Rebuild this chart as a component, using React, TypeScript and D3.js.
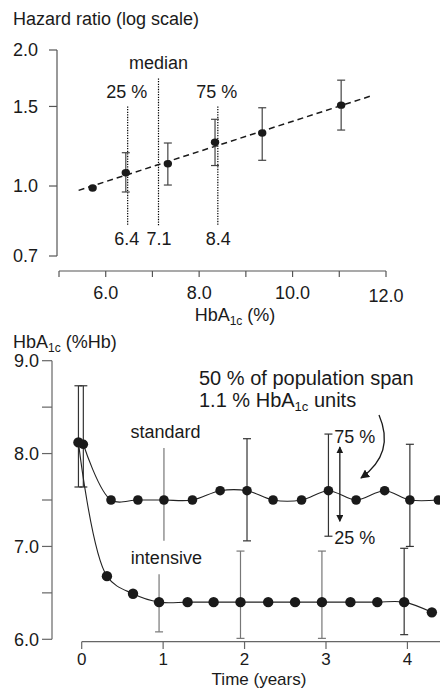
import React from 'react';
import * as d3 from 'd3';

// top panel: hazard ratio by HbA1c category
const hbCat = [5.72, 6.43, 7.33, 8.34, 9.35, 11.04];
const hrMean = [0.99, 1.07, 1.12, 1.25, 1.31, 1.51];
const hrLo = [null, 0.97, 1.005, 1.11, 1.14, 1.33];
const hrHi = [null, 1.185, 1.245, 1.405, 1.49, 1.715];
const trendX = [5.42, 11.7];
const trendY = [0.978, 1.585];
const quartX = [6.47, 7.13, 8.4];
const quartTop = [1.5, 1.73, 1.5];
const quartName = ['25 %', 'median', '75 %'];
const quartValue = ['6.4', '7.1', '8.4'];
const hrTicks = [0.7, 1.0, 1.5, 2.0];
const hbTicks = [5, 6, 7, 8, 9, 10, 11, 12];
const hbLabels = [6, 8, 10, 12];

// bottom panel: HbA1c over time
const stdYears = [0.02, 0.36, 0.69, 1.01, 1.36, 1.7, 2.03, 2.35, 2.7, 3.03, 3.37, 3.72, 4.03, 4.38];
const stdValues = [8.1, 7.5, 7.5, 7.5, 7.5, 7.6, 7.6, 7.5, 7.5, 7.6, 7.5, 7.6, 7.5, 7.5];
const intYears = [-0.04, 0.31, 0.63, 0.95, 1.3, 1.62, 1.95, 2.29, 2.62, 2.95, 3.3, 3.63, 3.96, 4.3];
const intValues = [8.12, 6.68, 6.49, 6.4, 6.4, 6.4, 6.4, 6.4, 6.4, 6.4, 6.4, 6.4, 6.4, 6.29];
const stdErrYears = [0.02, 1.01, 2.03, 3.03, 4.03];
const stdErrLo = [7.64, 7.06, 7.06, 7.11, 7.0];
const stdErrHi = [8.73, 8.06, 8.16, 8.21, 8.1];
const intErrYears = [-0.04, 0.95, 1.95, 2.95, 3.96];
const intErrLo = [7.64, 6.08, 6.01, 6.01, 6.05];
const intErrHi = [8.73, 6.7, 6.95, 6.95, 6.98];
const hbTimeTicks = [6, 6.5, 7, 7.5, 8, 8.5, 9];
const hbTimeLabels = [6, 7, 8, 9];
const yearTicks = [0, 1, 2, 3, 4];

const font = '"Liberation Sans", Arial, Helvetica, sans-serif';
const ink = '#1a1a1a';
const axisGray = '#555';

export default function App() {
  const hrX = d3.scaleLinear().domain([5, 12]).range([59, 386]);
  const hrY = d3.scaleLog().domain([0.7, 2]).range([256, 50]);
  const tX = d3.scaleLinear().domain([0, 4.4]).range([81.7, 440]);
  const tY = d3.scaleLinear().domain([6, 9]).range([639.3, 360.7]);

  const line = d3.line<number>().curve(d3.curveCatmullRom.alpha(0.5));
  const stdPath = line(stdYears.map((t, i) => [tX(t), tY(stdValues[i])]) as any);
  const intPath = line(intYears.map((t, i) => [tX(t), tY(intValues[i])]) as any);

  const errBar = (x: number, y1: number, y2: number, key: string, color: string,
    capTop = true, capBottom = true, cap = 4) => (
    <g key={key} stroke={color} strokeWidth={1.2}>
      <line x1={x} x2={x} y1={y1} y2={y2} />
      {capTop && <line x1={x - cap} x2={x + cap} y1={y1} y2={y1} />}
      {capBottom && <line x1={x - cap} x2={x + cap} y1={y2} y2={y2} />}
    </g>
  );

  return (
    <div style={{ position: 'absolute', left: 0, top: 0 }}>
      <svg width={440} height={690} style={{ display: 'block', fontFamily: font }}>
        <defs>
          <marker id="head" viewBox="0 0 10 10" refX="9" refY="5" markerWidth="7" markerHeight="7"
            markerUnits="userSpaceOnUse" orient="auto-start-reverse">
            <path d="M0,0 L10,5 L0,10 z" fill={ink} />
          </marker>
          <marker id="head2" viewBox="0 0 10 10" refX="9" refY="5" markerWidth="9" markerHeight="9"
            markerUnits="userSpaceOnUse" orient="auto">
            <path d="M0,0 L10,5 L0,10 z" fill={ink} />
          </marker>
        </defs>

        {/* ---------- top panel ---------- */}
        <text x={13} y={25} fontSize={18} fill={ink}>Hazard ratio (log scale)</text>

        <g stroke={axisGray} strokeWidth={1.2}>
          <line x1={57} x2={57} y1={hrY(2)} y2={hrY(0.7)} />
          {hrTicks.map(v => <line key={v} x1={49} x2={57} y1={hrY(v)} y2={hrY(v)} />)}
          <line x1={hrX(5)} x2={hrX(12)} y1={271} y2={271} />
          {hbTicks.map(v => <line key={v} x1={hrX(v)} x2={hrX(v)} y1={271} y2={277} />)}
        </g>
        {hrTicks.map(v => (
          <text key={v} x={38} y={hrY(v)} dy="0.35em" textAnchor="end" fontSize={18} fill={ink}>
            {v.toFixed(1)}
          </text>
        ))}
        {hbLabels.map(v => (
          <text key={v} x={hrX(v)} y={v === 12 ? 302 : 299} textAnchor="middle" fontSize={18} fill={ink}>
            {v.toFixed(1)}
          </text>
        ))}
        <text x={235} y={321} textAnchor="middle" fontSize={18} fill={ink}>
          HbA<tspan fontSize={12} dy={4}>1c</tspan><tspan dy={-4}> (%)</tspan>
        </text>

        {/* quartile markers */}
        {quartX.map((v, i) => (
          <g key={v}>
            <line x1={hrX(v)} x2={hrX(v)} y1={hrY(quartTop[i])} y2={226}
              stroke="#000" strokeWidth={1.2} strokeDasharray="1.3,1.3" />
            <text x={hrX(v) - (i === 1 ? 0 : 1)} y={i === 1 ? 69 : 98} textAnchor="middle" fontSize={18} fill={ink}>
              {quartName[i]}
            </text>
            <text x={hrX(v) + (i === 0 ? -1 : 0.5)} y={245} textAnchor="middle" fontSize={18} fill={ink}>
              {quartValue[i]}
            </text>
          </g>
        ))}

        <line x1={hrX(trendX[0])} y1={hrY(trendY[0])} x2={hrX(trendX[1])} y2={hrY(trendY[1])}
          stroke={ink} strokeWidth={1.5} strokeDasharray="6,4" />

        {hbCat.map((v, i) =>
          hrLo[i] != null ? errBar(hrX(v), hrY(hrHi[i] as number), hrY(hrLo[i] as number), 'e' + i, '#444') : null
        )}
        {hbCat.map((v, i) => (
          <ellipse key={v} cx={hrX(v)} cy={hrY(hrMean[i])} rx={4.2} ry={3.7} fill={ink} />
        ))}

        {/* ---------- bottom panel ---------- */}
        <text x={13} y={348} fontSize={18} fill={ink}>
          HbA<tspan fontSize={12} dy={4}>1c</tspan><tspan dy={-4}> (%Hb)</tspan>
        </text>

        <g stroke="#666" strokeWidth={1.2}>
          <line x1={52} x2={52} y1={tY(9)} y2={tY(6)} />
          {hbTimeTicks.map(v => <line key={v} x1={42} x2={52} y1={tY(v)} y2={tY(v)} />)}
          <line x1={tX(0)} x2={tX(4.4)} y1={641.7} y2={641.7} />
          {yearTicks.map(v => <line key={v} x1={tX(v)} x2={tX(v)} y1={641.7} y2={649} />)}
        </g>
        {hbTimeLabels.map(v => (
          <text key={v} x={39} y={tY(v)} dy="0.35em" textAnchor="end" fontSize={18} fill={ink}>
            {v.toFixed(1)}
          </text>
        ))}
        {yearTicks.map(v => (
          <text key={v} x={tX(v)} y={665} textAnchor="middle" fontSize={17} fill={ink}>{v}</text>
        ))}
        <text x={259} y={685} textAnchor="middle" fontSize={17} fill={ink}>Time (years)</text>

        {stdErrYears.map((t, i) =>
          errBar(tX(t), tY(stdErrHi[i]), tY(stdErrLo[i]), 's' + i, i === 1 ? '#777' : '#333', i !== 1, i !== 1))}
        {intErrYears.map((t, i) =>
          errBar(tX(t), tY(intErrHi[i]), tY(intErrLo[i]), 'i' + i, i === 0 || i === 4 ? '#333' : '#777', i !== 1, true))}

        <path d={stdPath as string} fill="none" stroke="#222" strokeWidth={1.1} />
        <path d={intPath as string} fill="none" stroke="#222" strokeWidth={1.1} />

        {stdYears.map((t, i) => (
          <circle key={'sp' + i} cx={tX(t)} cy={tY(stdValues[i])} r={4.8} fill={ink} />
        ))}
        {intYears.map((t, i) => (
          <circle key={'ip' + i} cx={tX(t)} cy={tY(intValues[i])} r={5.2} fill={ink} />
        ))}

        <text x={tX(1.03)} y={tY(8.165)} textAnchor="middle" fontSize={18} fill={ink}>standard</text>
        <text x={tX(1.04)} y={tY(6.81)} textAnchor="middle" fontSize={18} fill={ink}>intensive</text>

        <text x={199} y={385} fontSize={20} fill={ink}>50 % of population span</text>
        <text x={199} y={407} fontSize={20} fill={ink}>
          1.1 % HbA<tspan fontSize={13} dy={4}>1c</tspan><tspan dy={-4}> units</tspan>
        </text>

        <line x1={tX(3.17)} x2={tX(3.17)} y1={tY(8.07)} y2={tY(7.27)} stroke={ink} strokeWidth={1.3}
          markerStart="url(#head)" markerEnd="url(#head)" />
        <text x={tX(3.1)} y={tY(8.117)} fontSize={18} fill={ink}>75 %</text>
        <text x={tX(3.1)} y={tY(7.026)} fontSize={18} fill={ink}>25 %</text>

        <path d="M379,415 C389,438 386,460 361,478" fill="none" stroke={ink} strokeWidth={1.3} markerEnd="url(#head2)" />
      </svg>
    </div>
  );
}
